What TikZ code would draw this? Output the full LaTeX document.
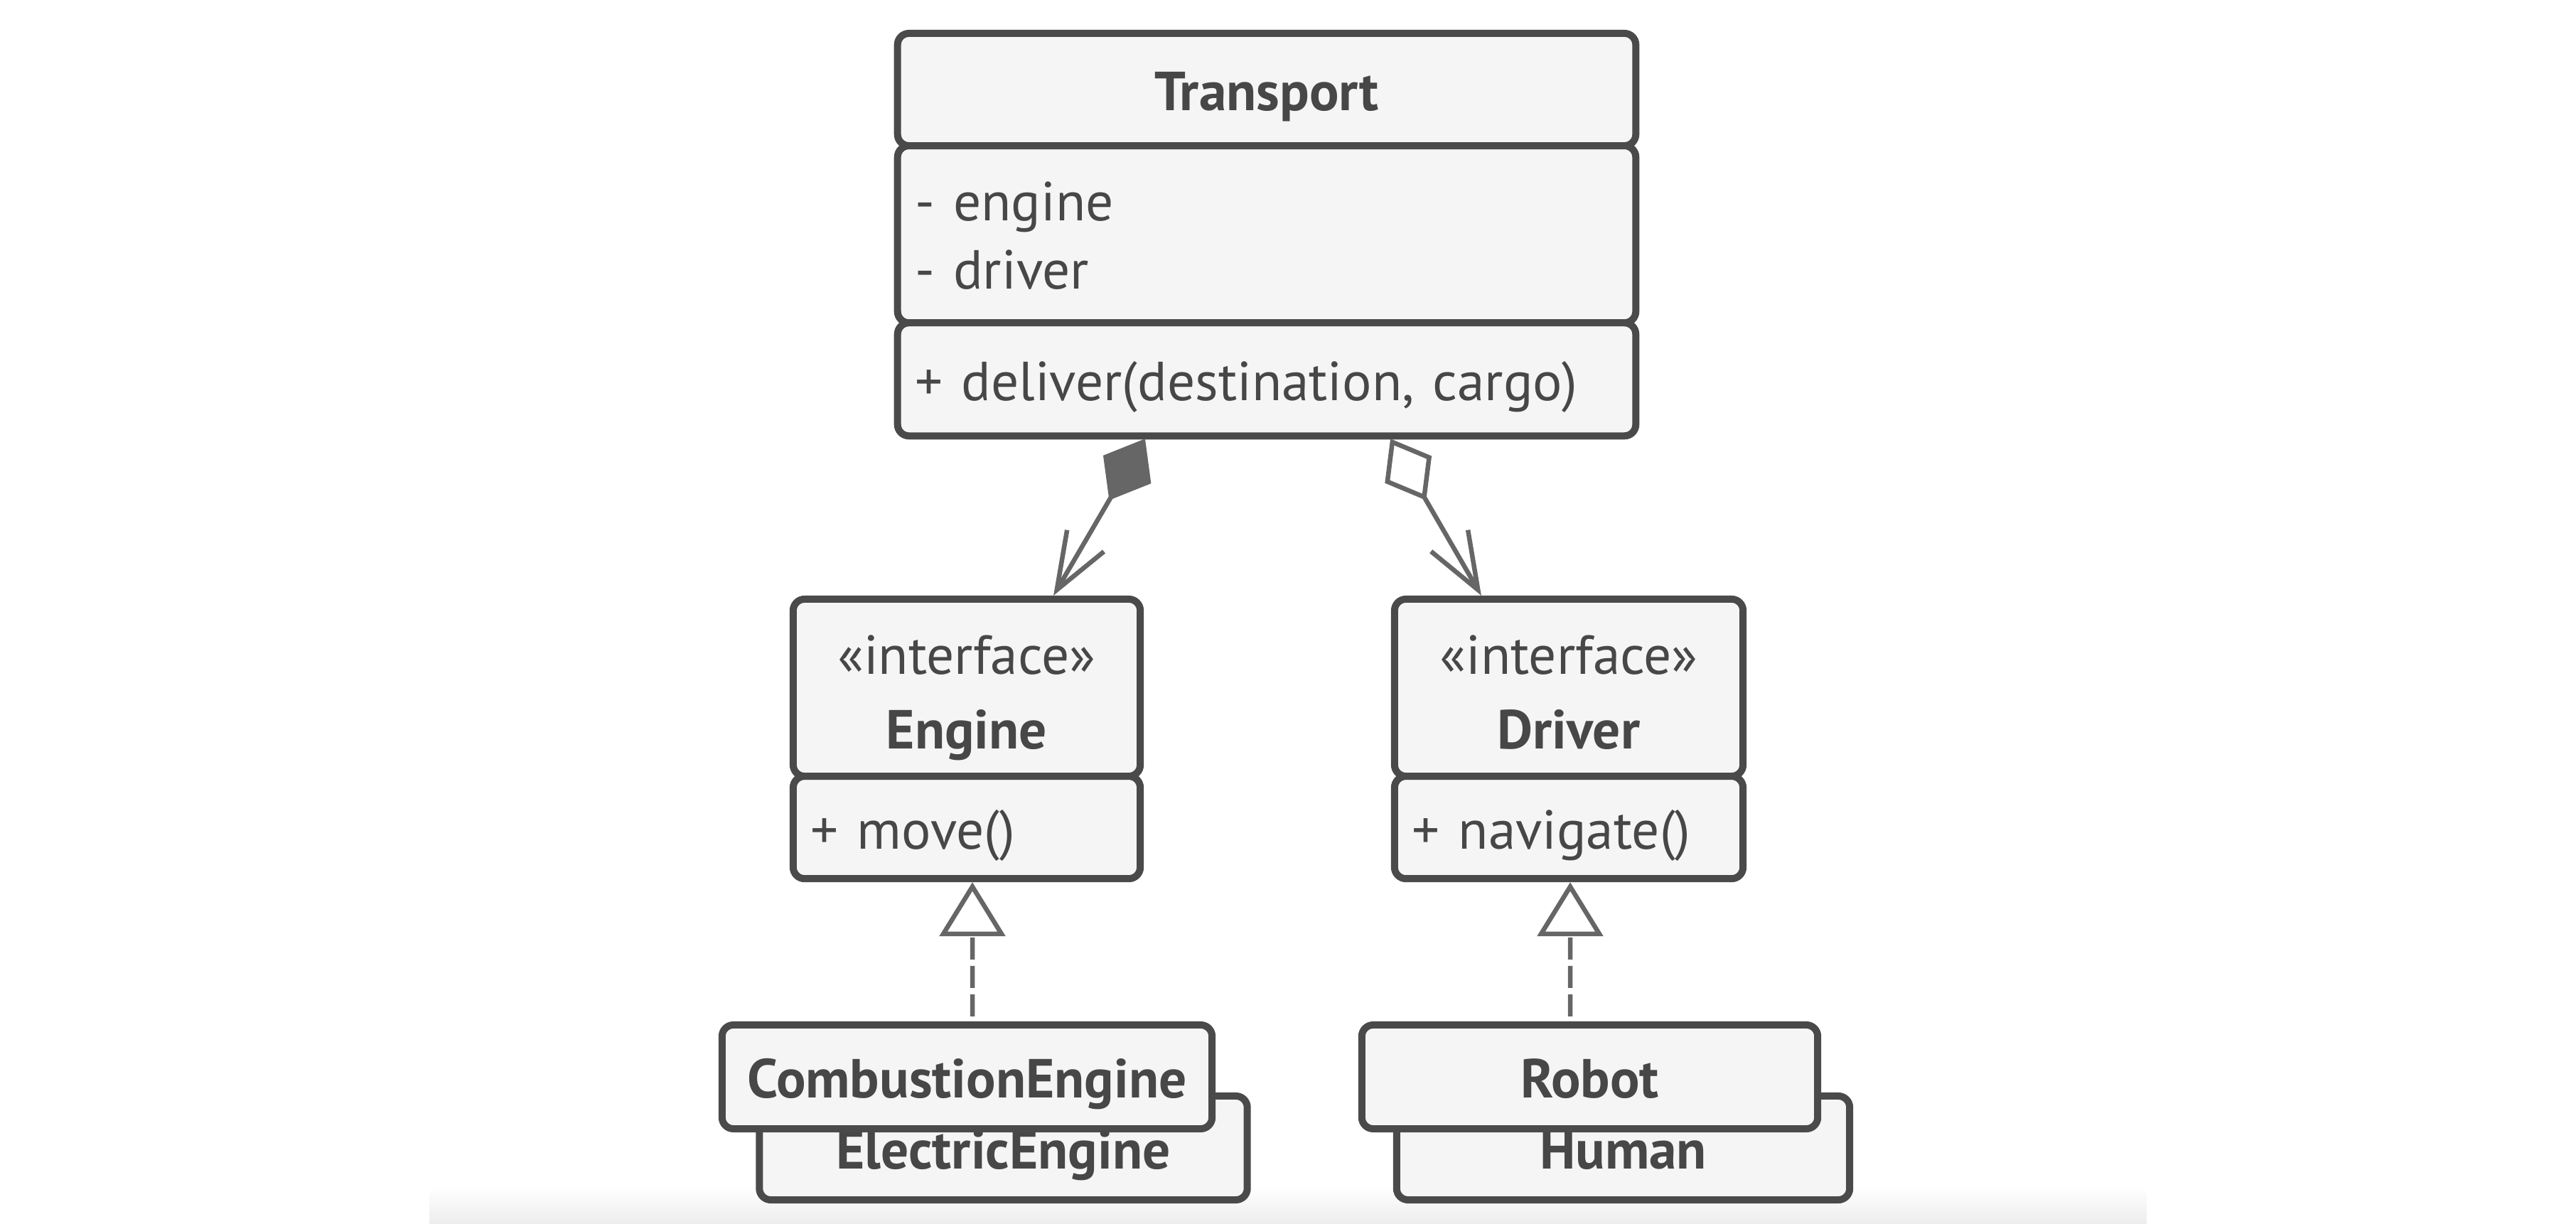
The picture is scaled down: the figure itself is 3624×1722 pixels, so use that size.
\documentclass[tikz,border=0pt]{standalone}
\usepackage{fontspec}
\setmainfont{PT Sans}
\usepackage{tikz}
\usetikzlibrary{arrows.meta,positioning}
\definecolor{umlline}{HTML}{4A4A4A}
\definecolor{umlfill}{HTML}{F5F5F5}
\definecolor{umlarrow}{HTML}{666666}
\definecolor{umltext}{HTML}{474747}
\tikzset{
    %Define style for boxes
    headbox/.style={
           rectangle,
           rounded corners=0.16cm,
           draw=umlline, line width=0.1cm,
           fill=umlfill,
           outer sep=0pt,
           inner xsep=0.25cm,
           inner ysep=0pt,
           text height=17pt,
           text depth=0pt,
           text=umltext,
           font=\fontsize{22}{27.5}\selectfont,
           align=center},
    listbox/.style={
           headbox,
           align=left},
    % two lines in one box
    twoline/.style={
           text depth=28pt},
    % Define arrow styles
    compo/.style={
           draw=umlarrow,
           line width=0.065cm,
           {Diamond[length=1.0cm, width=0.78cm]}-{Straight Barb[length=0.8cm, width=0.6cm]}},
    aggr/.style={
           draw=umlarrow,
           line width=0.065cm,
           {Diamond[open, fill=white, length=1.0cm, width=0.76cm]}-{Straight Barb[length=0.8cm, width=0.6cm]}},
    realize/.style={
           draw=umlarrow,
           line width=0.065cm,
           dash pattern=on 0.31cm off 0.09cm,
           -{Triangle[open, fill=white, length=0.76cm, width=0.92cm]}}
}

\begin{document}
\begin{tikzpicture}[x=0.01cm, y=-0.01cm]
\useasboundingbox (0,0) rectangle (3624,1722);
\shade[top color=white, bottom color=black!7] (604,1669) rectangle (3020,1722);

% Transport
\node[headbox, text width=9.88cm, minimum height=1.58cm] (trh) at (1782,126) {\textbf{Transport}};
\node[listbox, twoline, text width=9.88cm, minimum height=2.49cm, below=0pt of trh] (tra) {- engine\\- driver};
\node[listbox, text width=9.88cm, minimum height=1.59cm, below=0pt of tra] (trm) {+ deliver(destination, cargo)};

% interfaces
\node[headbox, twoline, text width=4.38cm, minimum height=2.49cm,
      font=\fontsize{22}{30}\selectfont] (engh) at (1360,967.5) {«interface»\\\textbf{Engine}};
\node[listbox, text width=4.38cm, minimum height=1.44cm, below=0pt of engh] (engm) {+ move()};
\node[headbox, twoline, text width=4.40cm, minimum height=2.49cm,
      font=\fontsize{22}{30}\selectfont] (drvh) at (2207,967.5) {«interface»\\\textbf{Driver}};
\node[listbox, text width=4.40cm, minimum height=1.44cm, below=0pt of drvh] (drvm) {+ navigate()};

% implementations
\node[headbox, text width=6.36cm, minimum height=1.46cm] (elec) at (1411.5,1615) {\textbf{ElectricEngine}};
\node[headbox, text width=6.39cm, minimum height=1.46cm] (comb) at (1360.5,1515) {\textbf{CombustionEngine}};
\node[headbox, text width=5.87cm, minimum height=1.46cm] (human) at (2283.5,1615) {\textbf{Human}};
\node[headbox, text width=5.91cm, minimum height=1.46cm] (robot) at (2236.5,1515) {\textbf{Robot}};

\draw[compo] ([xshift=-1.71cm, yshift=-0.04cm]trm.south) -- ([xshift=1.22cm, yshift=0.05cm]engh.north);
\draw[aggr] ([xshift=1.74cm, yshift=-0.04cm]trm.south) -- ([xshift=-1.23cm, yshift=0.05cm]drvh.north);
\draw[realize] ([xshift=0.075cm, yshift=0.12cm]comb.north) -- ([xshift=0.08cm, yshift=-0.05cm]engm.south);
\draw[realize] ([xshift=-0.275cm, yshift=0.12cm]robot.north) -- ([xshift=0.02cm, yshift=-0.05cm]drvm.south);
\end{tikzpicture}
\end{document}
